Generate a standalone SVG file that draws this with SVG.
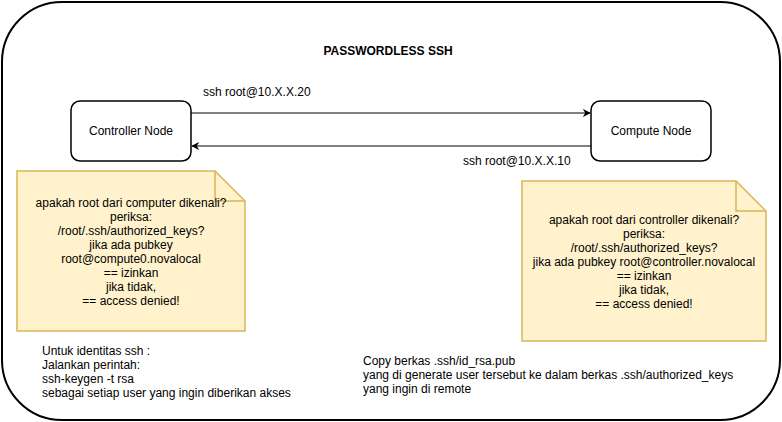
<svg xmlns="http://www.w3.org/2000/svg" width="782" height="422" viewBox="0 0 782 422">
<style>
text{font-family:"Liberation Sans",Arial,sans-serif;font-size:12px;fill:#000}
.c{text-anchor:middle}
.node{fill:#fff;stroke:#000;stroke-width:1.5}
.note{fill:#fff2cc;stroke:#d6b656;stroke-width:1.5}
.edge{fill:none;stroke:#000;stroke-width:1}
</style>
<defs>
<marker id="ah" viewBox="0 0 10 10" refX="9" refY="5" markerWidth="8" markerHeight="8" markerUnits="userSpaceOnUse" orient="auto">
<path d="M0,0 L10,5 L0,10 L3,5 Z" fill="#000"/>
</marker>
</defs>
<rect id="frame" x="2" y="2" width="778" height="418" rx="60" ry="60" fill="#fff" stroke="#000" stroke-width="2"/>
<text id="title" class="c" x="388" y="55" font-weight="bold">PASSWORDLESS SSH</text>
<g id="controller">
<rect class="node" x="71" y="101" width="120" height="60" rx="9"/>
<text class="c" x="131" y="135">Controller Node</text>
</g>
<g id="compute">
<rect class="node" x="591" y="101" width="120" height="60" rx="9"/>
<text class="c" x="651" y="135">Compute Node</text>
</g>
<g id="connectors">
<line class="edge" x1="191" y1="113" x2="590" y2="113" marker-end="url(#ah)"/>
<line class="edge" x1="591" y1="146" x2="192" y2="146" marker-end="url(#ah)"/>
<text x="203" y="96">ssh root@10.X.X.20</text>
<text x="463" y="165">ssh root@10.X.X.10</text>
</g>
<g id="note-left">
<path class="note" d="M17,171 L215,171 L245,201 L245,331 L17,331 Z"/>
<path d="M215,171 L215,201 L245,201" fill="none" stroke="#d6b656" stroke-width="1.5"/>
<text class="c" x="131" y="207">apakah root dari computer dikenali?</text>
<text class="c" x="131" y="221">periksa:</text>
<text class="c" x="131" y="235">/root/.ssh/authorized_keys?</text>
<text class="c" x="131" y="249">jika ada pubkey</text>
<text class="c" x="131" y="263">root@compute0.novalocal</text>
<text class="c" x="131" y="277">== izinkan</text>
<text class="c" x="131" y="291">jika tidak,</text>
<text class="c" x="131" y="305">== access denied!</text>
</g>
<g id="note-right">
<path class="note" d="M522,181 L736,181 L766,211 L766,341 L522,341 Z"/>
<path d="M736,181 L736,211 L766,211" fill="none" stroke="#d6b656" stroke-width="1.5"/>
<text class="c" x="644" y="224">apakah root dari controller dikenali?</text>
<text class="c" x="644" y="238">periksa:</text>
<text class="c" x="644" y="252">/root/.ssh/authorized_keys?</text>
<text class="c" x="644" y="266">jika ada pubkey root@controller.novalocal</text>
<text class="c" x="644" y="280">== izinkan</text>
<text class="c" x="644" y="294">jika tidak,</text>
<text class="c" x="644" y="308">== access denied!</text>
</g>
<g id="text-left">
<text x="42" y="355">Untuk identitas ssh :</text>
<text x="42" y="369">Jalankan perintah:</text>
<text x="42" y="383">ssh-keygen -t rsa</text>
<text x="42" y="397">sebagai setiap user yang ingin diberikan akses</text>
</g>
<g id="text-right">
<text x="363" y="365">Copy berkas .ssh/id_rsa.pub</text>
<text x="363" y="379">yang di generate user tersebut ke dalam berkas .ssh/authorized_keys</text>
<text x="363" y="393">yang ingin di remote</text>
</g>
</svg>
